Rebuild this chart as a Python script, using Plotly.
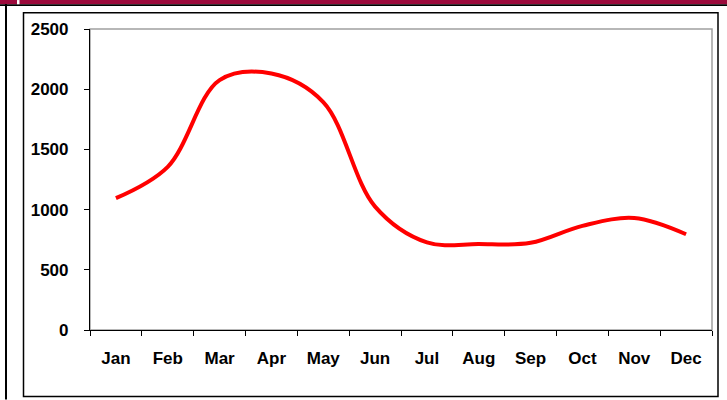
import plotly.graph_objects as go

months = ["Jan", "Feb", "Mar", "Apr", "May", "Jun", "Jul", "Aug", "Sep", "Oct", "Nov", "Dec"]
values = [1095, 1355, 2075, 2130, 1893, 1025, 728, 714, 724, 865, 930, 795]
y_ticks = [0, 500, 1000, 1500, 2000, 2500]

W, H = 727, 400
L, R, T, B = 90, 712, 29, 330.5  # plot area in pixels


def px(x):
    return (x - L) / (R - L)


def py(y):
    return (B - y) / (B - T)


fig = go.Figure()
fig.add_trace(go.Scatter(
    x=months, y=values, mode="lines",
    line=dict(color="#FF0000", width=4, shape="spline", smoothing=1.0),
    hoverinfo="x+y", showlegend=False,
))

font_bold = dict(family="Liberation Sans, Arial, sans-serif", size=17, color="black", weight="bold")

shapes = [
    dict(type="rect", xref="paper", yref="paper", x0=px(0), x1=px(W), y0=py(0), y1=py(4.2),
         fillcolor="#9C0A3C", line=dict(width=0), layer="below"),
    dict(type="rect", xref="paper", yref="paper", x0=px(0), x1=px(W), y0=py(4.2), y1=py(6),
         fillcolor="black", line=dict(width=0), layer="below"),
    dict(type="rect", xref="paper", yref="paper", x0=px(17), x1=px(19.5), y0=py(0), y1=py(4.2),
         fillcolor="white", line=dict(width=0), layer="below"),
    dict(type="rect", xref="paper", yref="paper", x0=px(5), x1=px(7), y0=py(4), y1=py(H),
         fillcolor="black", line=dict(width=0), layer="below"),
    dict(type="rect", xref="paper", yref="paper", x0=px(23.5), x1=px(718), y0=py(12.8), y1=py(397),
         fillcolor="rgba(0,0,0,0)", line=dict(color="black", width=1.5), layer="below"),
    dict(type="rect", xref="paper", yref="paper", x0=0, x1=1, y0=0, y1=1,
         fillcolor="rgba(0,0,0,0)", line=dict(color="#A0A0A0", width=1.5), layer="below"),
]

fig.update_layout(
    width=W, height=H,
    margin=dict(l=L, r=W - R, t=T, b=H - B, pad=0),
    paper_bgcolor="white", plot_bgcolor="white",
    shapes=shapes,
    xaxis=dict(
        type="category", range=[-0.5, 11.5], tickson="boundaries",
        showline=True, linecolor="black", linewidth=1.2,
        ticks="outside", ticklen=5, tickcolor="black", tickwidth=1,
        showgrid=False, zeroline=False, tickfont=font_bold,
        ticklabelstandoff=12,
    ),
    yaxis=dict(
        range=[0, 2500], tickvals=y_ticks,
        showline=True, linecolor="black", linewidth=1.2,
        ticks="outside", ticklen=5, tickcolor="black", tickwidth=1,
        showgrid=False, zeroline=False, tickfont=font_bold,
        ticklabelstandoff=12,
    ),
)

fig.write_html(
    "out.html",
    config={"displayModeBar": False},
    post_script="document.body.style.margin='0';document.body.style.overflow='hidden';",
)
